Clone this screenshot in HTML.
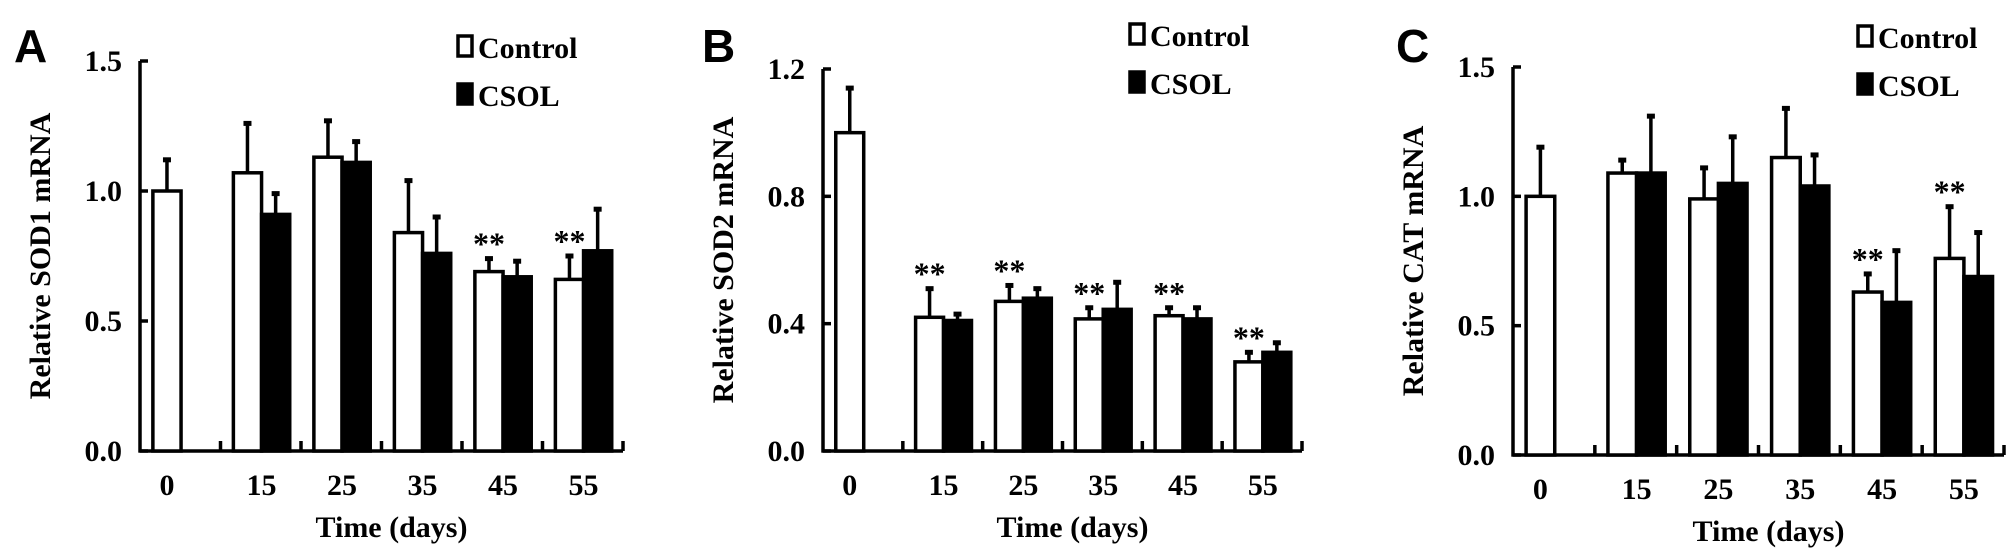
<!DOCTYPE html>
<html><head><meta charset="utf-8"><style>
body{margin:0;background:#fff;}
svg{display:block;}
text{font-family:"Liberation Serif",serif;font-weight:bold;fill:#000;}
</style></head><body>
<svg id="fig" width="2008" height="560" viewBox="0 0 2008 560"></svg>
<script>
const categories=["0","15","25","35","45","55"];
const ctrlA=[1.0,1.07,1.13,0.84,0.69,0.66];
const ctrlErrA=[1.12,1.26,1.27,1.04,0.74,0.75];
const csolA=[null,0.91,1.11,0.76,0.67,0.77];
const csolErrA=[null,0.99,1.19,0.90,0.73,0.93];
const starsA=[0,0,0,0,1,1];
const ctrlB=[1.0,0.42,0.47,0.415,0.425,0.28];
const ctrlErrB=[1.14,0.51,0.52,0.45,0.45,0.31];
const csolB=[null,0.41,0.48,0.445,0.415,0.31];
const csolErrB=[null,0.43,0.51,0.53,0.45,0.34];
const starsB=[0,1,1,1,1,1];
const ctrlC=[1.0,1.09,0.99,1.15,0.63,0.76];
const ctrlErrC=[1.19,1.14,1.11,1.34,0.70,0.96];
const csolC=[null,1.09,1.05,1.04,0.59,0.69];
const csolErrC=[null,1.31,1.23,1.16,0.79,0.86];
const starsC=[0,0,0,0,1,1];
const ticksA=[0,0.5,1.0,1.5], tickLabelsA=["0.0","0.5","1.0","1.5"];
const ticksB=[0,0.4,0.8,1.2], tickLabelsB=["0.0","0.4","0.8","1.2"];
const ticksC=[0,0.5,1.0,1.5], tickLabelsC=["0.0","0.5","1.0","1.5"];

const NS="http://www.w3.org/2000/svg";
const svg=document.getElementById('fig');
function mk(tag,attrs,parent){const e=document.createElementNS(NS,tag);for(const k in attrs)e.setAttribute(k,attrs[k]);(parent||svg).appendChild(e);return e;}

function panel(o){
  const g=mk('g',{});
  
  
  const y=v=>o.y0-(v/o.ymax)*(o.y0-o.ytop);
  const gw=(o.xEnd-o.x0)/categories.length;
  const bw=gw*0.35;
  const L=mk('text',{x:o.lx,y:62,'font-size':46,style:'font-family:"Liberation Sans",sans-serif;font-weight:bold'},g);L.textContent=o.letter;
  
  
  const ya=mk('line',{x1:o.x0,y1:o.ytop,x2:o.x0,y2:o.y0+1.5,stroke:'#000','stroke-width':3.5},g);
  
  
  const xa=mk('line',{x1:o.x0-1.5,y1:o.y0,x2:o.xEnd,y2:o.y0,stroke:'#000','stroke-width':3.5},g);
  
  
  o.ticks.forEach((t,i)=>{
    mk('line',{x1:o.x0,y1:y(t),x2:o.x0+8,y2:y(t),stroke:'#000','stroke-width':3.5},g);
    const tl=mk('text',{x:o.x0-18,y:y(t)+10,'font-size':30,'text-anchor':'end'},g);tl.textContent=o.tickLabels[i];
    
    
  });
  categories.forEach((c,i)=>{
    const gx=o.x0+gw*(i+1);
    mk('line',{x1:gx,y1:o.y0,x2:gx,y2:o.y0-10,stroke:'#000','stroke-width':3.5},g);
    const cx=o.x0+gw*i+gw*0.16+bw;
    const tl=mk('text',{x:i==0?o.x0+gw*0.16+bw/2:cx,y:o.y0+44,'font-size':30,'text-anchor':'middle'},g);tl.textContent=c;
    
    
    const bx=o.x0+gw*i+gw*0.16;
    function err(x,v,e){mk('line',{x1:x,y1:y(v),x2:x,y2:y(e),stroke:'#000','stroke-width':3.5},g);mk('line',{x1:x-4,y1:y(e),x2:x+4,y2:y(e),stroke:'#000','stroke-width':5},g);}
    err(bx+bw/2,o.ctrl[i],o.ctrlErr[i]);
    const r=mk('rect',{x:bx,y:y(o.ctrl[i]),width:bw,height:o.y0-y(o.ctrl[i]),fill:'#fff',stroke:'#000','stroke-width':3.5},g);
    
    
    if(o.csol[i]!=null){
      err(bx+bw*1.5,o.csol[i],o.csolErr[i]);
      const r2=mk('rect',{x:bx+bw,y:y(o.csol[i]),width:bw,height:o.y0-y(o.csol[i]),fill:'#000',stroke:'#000','stroke-width':3.5},g);
      
      
    }
    if(o.stars[i]){
      const s=mk('text',{x:bx+bw/2,y:y(o.ctrlErr[i])-4,'font-size':32,'text-anchor':'middle'},g);s.textContent='**';
      
      
    }
  });
  const yt=mk('text',{x:0,y:0,'font-size':30,'text-anchor':'middle',transform:`translate(${o.x0-90},${(o.ytop+o.y0)/2}) rotate(-90)`},g);yt.textContent=o.ytitle;
  
  
  const xt=mk('text',{x:(o.x0+o.xEnd)/2+10,y:o.y0+86,'font-size':30,'text-anchor':'middle'},g);xt.textContent='Time (days)';
  
  
  const l1=mk('rect',{x:o.legX,y:o.legY-22,width:14,height:20,fill:'#fff',stroke:'#000','stroke-width':3.5},g);
  
  
  const t1=mk('text',{x:o.legX+20,y:o.legY,'font-size':30},g);t1.textContent='Control';
  
  
  const l2=mk('rect',{x:o.legX,y:o.legY+26,width:14,height:20,fill:'#000',stroke:'#000','stroke-width':3.5},g);
  
  
  const t2=mk('text',{x:o.legX+20,y:o.legY+48,'font-size':30},g);t2.textContent='CSOL';
  
  
}
panel({letter:'A',lx:14,x0:140,xEnd:623,y0:451,ytop:61,ymax:1.5,ticks:ticksA,tickLabelsA:0,tickLabels:tickLabelsA,ctrl:ctrlA,ctrlErr:ctrlErrA,csol:csolA,csolErr:csolErrA,stars:starsA,ytitle:'Relative SOD1 mRNA',legX:458,legY:58});
panel({letter:'B',lx:702,x0:823,xEnd:1302,y0:451,ytop:69,ymax:1.2,ticks:ticksB,tickLabels:tickLabelsB,ctrl:ctrlB,ctrlErr:ctrlErrB,csol:csolB,csolErr:csolErrB,stars:starsB,ytitle:'Relative SOD2 mRNA',legX:1130,legY:46});
panel({letter:'C',lx:1396,x0:1513,xEnd:2004,y0:455,ytop:67,ymax:1.5,ticks:ticksC,tickLabels:tickLabelsC,ctrl:ctrlC,ctrlErr:ctrlErrC,csol:csolC,csolErr:csolErrC,stars:starsC,ytitle:'Relative CAT mRNA',legX:1858,legY:48});
</script>
</body></html>
